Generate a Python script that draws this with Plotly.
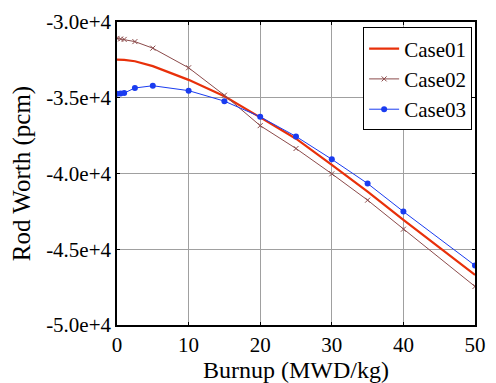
import plotly.graph_objects as go

burnup = [0, 0.5, 1, 2.5, 5, 10, 15, 20, 25, 30, 35, 40, 50]
case01 = [-32480, -32490, -32500, -32590, -32913, -33819, -34900, -36298, -37702, -39430, -41197, -43055, -46699]
case02 = [-31081, -31120, -31150, -31294, -31727, -33022, -34834, -36841, -38350, -40020, -41760, -43677, -47456]
case03 = [-34744, -34720, -34690, -34356, -34207, -34531, -35223, -36259, -37553, -39061, -40660, -42512, -46071]

xticks = [0, 10, 20, 30, 40, 50]
yticks = [-30000, -35000, -40000, -45000, -50000]
yticklabels = ["-3.0e+4", "-3.5e+4", "-4.0e+4", "-4.5e+4", "-5.0e+4"]

font = "Liberation Serif, Times New Roman, serif"
fig = go.Figure()
fig.add_trace(go.Scatter(x=burnup, y=case01, name="Case01", mode="lines",
                         line=dict(color="#e8300a", width=2.2)))
fig.add_trace(go.Scatter(x=burnup, y=case02, name="Case02", mode="lines+markers",
                         line=dict(color="#8b4a4a", width=1),
                         marker=dict(symbol="x-thin", size=5, line=dict(color="#8b4a4a", width=1))))
fig.add_trace(go.Scatter(x=burnup, y=case03, name="Case03", mode="lines+markers",
                         line=dict(color="#1a3cf0", width=1),
                         marker=dict(symbol="circle", size=6, color="#1a3cf0")))

axis_common = dict(showline=True, linecolor="black", linewidth=1.5, mirror="ticks",
                   ticks="inside", ticklen=3, tickcolor="black",
                   showgrid=True, gridcolor="#a0a0a0", gridwidth=1, zeroline=False,
                   tickfont=dict(family=font, size=21, color="black"))
fig.update_xaxes(range=[0, 50], tickvals=xticks, **axis_common)
fig.update_yaxes(range=[-50000, -30000], tickvals=yticks, ticktext=yticklabels, **axis_common,
                 title=dict(text="Rod Worth (pcm)", font=dict(family=font, size=25, color="black"), standoff=8))

fig.add_annotation(text="Burnup (MWD/kg)", xref="paper", yref="paper", x=0.5, y=-0.148,
                   xanchor="center", yanchor="middle", showarrow=False,
                   font=dict(family=font, size=24, color="black"))

fig.update_layout(width=496, height=383, margin=dict(l=117, r=10, t=16, b=58),
                  plot_bgcolor="white", paper_bgcolor="white", showlegend=True,
                  legend=dict(x=0.992, y=0.982, xanchor="right", yanchor="top",
                              bordercolor="black", borderwidth=1, bgcolor="white",
                              font=dict(family=font, size=21, color="black"),
                              tracegroupgap=0, itemwidth=30))
fig.write_html("out.html", post_script="document.body.style.margin='0';",
               config={"displayModeBar": False})
